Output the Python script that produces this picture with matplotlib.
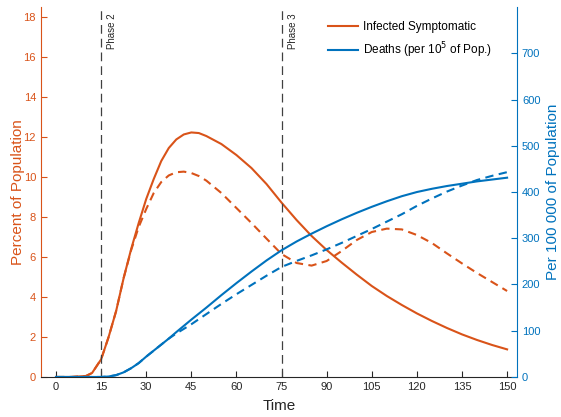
import matplotlib.pyplot as plt

plt.rcParams['font.family'] = ['Liberation Sans', 'DejaVu Sans']

ORANGE = '#D95319'
BLUE = '#0072BD'
GRAY = '#262626'

# Infected symptomatic (% of population)
t_inf = [0, 5, 10, 12, 15, 17.5, 20, 22.5, 25, 27.5, 30, 32.5, 35, 37.5, 40, 42.5, 45, 47.5, 50,
         55, 60, 65, 70, 75, 80, 85, 90, 95, 100, 105, 110, 115, 120, 125, 130, 135, 140, 145, 150]
inf_solid = [0, 0, 0.05, 0.2, 0.88, 2.0, 3.3, 4.95, 6.4, 7.7, 8.9, 9.9, 10.8, 11.45, 11.88, 12.13, 12.23, 12.2, 12.05,
             11.65, 11.1, 10.45, 9.65, 8.72, 7.85, 7.05, 6.35, 5.72, 5.12, 4.55, 4.05, 3.6, 3.18, 2.8, 2.45, 2.13, 1.85, 1.6, 1.38]
inf_dashed = [0, 0, 0.05, 0.2, 0.88, 2.0, 3.3, 4.95, 6.35, 7.5, 8.4, 9.2, 9.75, 10.08, 10.24, 10.27, 10.2, 10.05, 9.82,
              9.2, 8.45, 7.7, 6.92, 6.15, 5.7, 5.57, 5.8, 6.3, 6.85, 7.25, 7.42, 7.38, 7.1, 6.7, 6.18, 5.68, 5.2, 4.75, 4.3]

# Deaths per 100 000 of population
t_dth = [0, 10, 15, 17.5, 20, 22.5, 25, 27.5, 30, 35, 37.5, 40, 45, 50, 55, 60, 65, 70, 75, 80, 85,
         90, 95, 100, 105, 110, 115, 120, 125, 130, 135, 140, 145, 150]
dth_solid = [0, 0, 0, 1, 4, 10, 19, 30, 44, 70, 83, 97, 124, 150, 177, 203, 228, 252, 274, 293, 310,
             326, 341, 355, 368, 380, 391, 400, 407, 413, 418, 423, 427, 431]
dth_dashed = [0, 0, 0, 1, 4, 10, 19, 30, 44, 70, 83, 94, 114, 136, 158, 179, 199, 219, 238, 251, 263,
              276, 290, 305, 320, 336, 352, 370, 386, 401, 414, 426, 435, 443]

phases = [15, 75]
phase_names = ['Phase 2', 'Phase 3']
x_ticks = list(range(0, 151, 15))

fig = plt.figure(figsize=(5.61, 4.17), dpi=100)
ax = fig.add_axes([0.073, 0.096, 0.8486, 0.887])
ax2 = ax.twinx()

dash = (0, (4, 2.6))
l1, = ax.plot(t_inf, inf_solid, color=ORANGE, lw=1.5)
ax.plot(t_inf, inf_dashed, color=ORANGE, lw=1.5, linestyle=dash)
l2, = ax2.plot(t_dth, dth_solid, color=BLUE, lw=1.5)
ax2.plot(t_dth, dth_dashed, color=BLUE, lw=1.5, linestyle=dash)

for p, name in zip(phases, phase_names):
    ax.axvline(p, color='#404040', lw=0.9, linestyle=(0, (7, 4)))
    ax.text(p + 2.0, 18.2, name, rotation=90, va='top', ha='left', fontsize=7, color=GRAY)

ax.set_xlim(-5, 153.3)
ax.set_ylim(0, 18.5)
ax2.set_ylim(0, 800)
ax.set_xticks(x_ticks)
ax.set_yticks(range(0, 19, 2))
ax2.set_yticks(range(0, 701, 100))

ax.tick_params(axis='x', direction='in', length=4, colors=GRAY, labelsize=8)
ax.tick_params(axis='y', direction='in', length=4, colors=ORANGE, labelsize=8)
ax2.tick_params(axis='y', direction='in', length=4, colors=BLUE, labelsize=8)

for a in (ax, ax2):
    a.spines['top'].set_visible(False)
ax.spines['right'].set_visible(False)
ax.spines['left'].set_color(ORANGE)
ax.spines['bottom'].set_color(GRAY)
ax2.spines['right'].set_color(BLUE)
ax2.spines['left'].set_visible(False)
ax2.spines['bottom'].set_visible(False)

ax.set_xlabel('Time', fontsize=11, color=GRAY, labelpad=5)
ax.set_ylabel('Percent of Population', fontsize=11, color=ORANGE, labelpad=-1)
ax2.set_ylabel('Per 100 000 of Population', fontsize=11, color=BLUE, labelpad=4)

ax2.legend([l1, l2], ['Infected Symptomatic', 'Deaths (per 10$^5$ of Pop.)'],
           loc='upper right', bbox_to_anchor=(0.97, 0.99), frameon=False, fontsize=8.5,
           handlelength=2.6, handletextpad=0.4, labelspacing=0.6)

fig.savefig('out.png', dpi=100)
